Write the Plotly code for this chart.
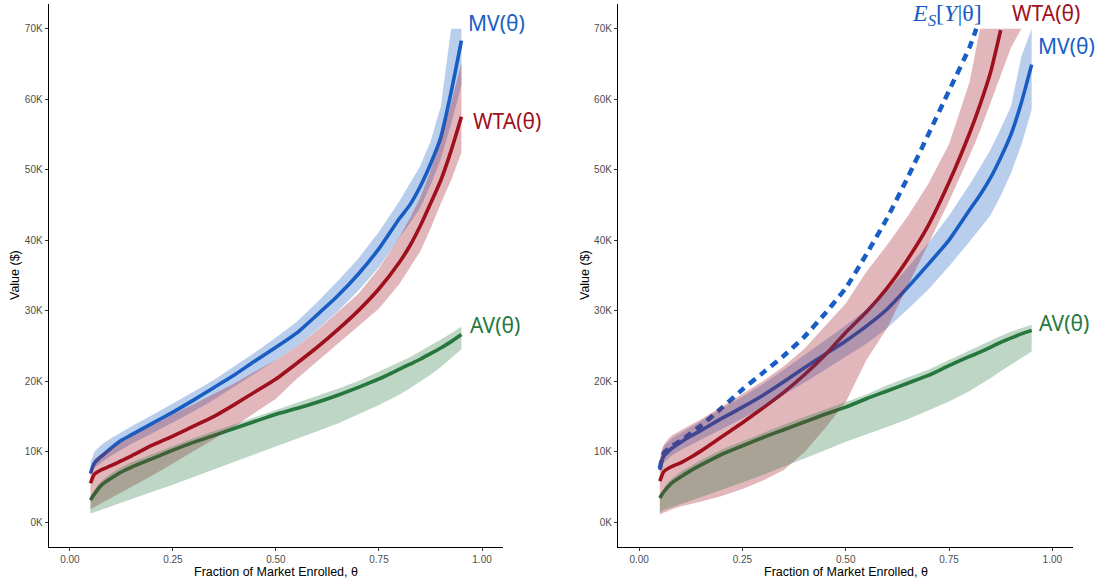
import plotly.graph_objects as go

# ---------------- data (values in $K) ----------------
THETA = [0.05, 0.055, 0.06, 0.07, 0.08, 0.1, 0.125, 0.15, 0.2, 0.25, 0.3, 0.35, 0.4,
         0.45, 0.5, 0.55, 0.6, 0.65, 0.7, 0.75, 0.8, 0.825, 0.85, 0.875, 0.9, 0.925, 0.95]

# Left panel
L_MV = [6.9, 7.8, 8.4, 9.0, 9.5, 10.5, 11.6, 12.4, 14.0, 15.6, 17.3, 19.1, 20.9, 22.9, 24.8,
        26.8, 29.4, 32.1, 35.2, 38.8, 43.1, 45.0, 47.6, 50.8, 54.6, 61.0, 68.3]
L_MV_LO = [6.6, 7.3, 7.7, 8.2, 8.6, 9.4, 10.3, 11.1, 12.6, 14.1, 15.7, 17.4, 19.2, 21.1, 23.0,
           24.9, 27.3, 29.9, 32.8, 36.2, 40.4, 42.4, 44.6, 47.8, 51.5, 56.5, 62.0]
L_MV_HI = [8.4, 9.3, 10.0, 10.6, 11.1, 11.9, 12.8, 13.6, 15.2, 16.8, 18.5, 20.2, 22.1, 24.1, 26.2,
           28.4, 31.2, 34.2, 37.4, 41.2, 45.6, 48.0, 50.5, 54.0, 59.0, 70.0, 70.0]
L_WTA = [5.5, 6.3, 6.8, 7.2, 7.5, 8.0, 8.7, 9.4, 10.9, 12.2, 13.6, 15.0, 16.7, 18.5, 20.3,
         22.5, 24.8, 27.3, 30.0, 33.1, 36.9, 39.2, 42.0, 45.2, 48.5, 52.7, 57.5]
L_WTA_LO = [1.8, 2.0, 2.2, 2.5, 2.8, 3.4, 4.2, 5.0, 6.6, 8.3, 10.0, 11.8, 13.6, 15.5, 17.5,
            20.3, 22.9, 25.4, 27.8, 30.3, 33.8, 36.0, 38.4, 41.6, 45.2, 48.5, 52.4]
L_WTA_HI = [7.4, 8.3, 8.9, 9.4, 9.8, 10.5, 11.4, 12.2, 13.8, 15.3, 16.7, 18.2, 19.7, 21.4, 23.0,
            24.9, 27.2, 29.8, 32.4, 36.0, 40.5, 43.1, 46.0, 49.8, 54.2, 59.5, 65.1]
L_AV = [3.1, 3.6, 4.0, 4.8, 5.4, 6.2, 7.1, 7.8, 9.0, 10.2, 11.3, 12.3, 13.3, 14.3, 15.3,
        16.1, 17.0, 18.0, 19.1, 20.3, 21.7, 22.4, 23.1, 23.9, 24.7, 25.6, 26.6]
L_AV_LO = [1.2, 1.3, 1.5, 1.7, 1.9, 2.3, 2.8, 3.3, 4.3, 5.3, 6.3, 7.4, 8.5, 9.6, 10.7,
           11.8, 12.9, 14.0, 15.3, 16.6, 18.1, 19.0, 19.9, 20.9, 22.0, 23.2, 24.5]
L_AV_HI = [3.5, 4.1, 4.6, 5.4, 6.0, 6.9, 7.8, 8.5, 9.7, 10.8, 11.9, 12.9, 13.9, 14.9, 15.9,
           16.8, 17.8, 18.9, 20.0, 21.3, 22.7, 23.4, 24.2, 25.0, 25.9, 26.8, 27.7]

# Right panel
R_MV = [7.4, 8.7, 9.4, 10.0, 10.5, 11.3, 12.2, 13.0, 14.7, 16.3, 18.0, 19.9, 21.9, 23.8, 25.7,
        27.8, 30.2, 33.3, 36.6, 40.0, 44.3, 46.4, 48.8, 51.7, 55.0, 59.5, 64.9]
R_MV_LO = [7.0, 7.8, 8.4, 9.0, 9.5, 10.2, 11.0, 11.7, 13.2, 14.7, 16.3, 18.0, 19.8, 21.6, 23.4,
           25.3, 27.5, 30.2, 33.0, 36.3, 39.8, 41.6, 43.5, 46.3, 49.5, 53.5, 58.5]
R_MV_HI = [8.6, 10.0, 10.8, 11.4, 11.9, 12.6, 13.5, 14.3, 16.1, 17.8, 19.6, 21.6, 23.7, 25.8, 27.9,
           30.2, 32.8, 36.1, 39.6, 43.5, 47.9, 50.3, 52.8, 55.8, 59.0, 66.0, 70.0]
R_WTA = [5.8, 6.6, 7.2, 7.6, 7.9, 8.4, 9.2, 10.1, 12.1, 14.1, 16.2, 18.4, 20.9, 23.7, 26.9,
         29.8, 33.2, 37.3, 42.1, 48.2, 55.2, 59.2, 63.7, 69.8, None, None, None]
R_WTA_LO = [1.0, 1.2, 1.3, 1.6, 1.8, 2.2, 2.6, 2.9, 3.7, 4.7, 5.9, 7.4, 9.9, 13.3, 17.0,
            23.0, 27.5, 33.5, 39.5, 45.5, 52.0, 55.5, 59.3, 63.3, 67.3, 70.0, None]
R_WTA_HI = [9.0, 10.3, 11.0, 11.8, 12.3, 13.0, 13.8, 14.6, 16.4, 18.2, 20.0, 22.1, 24.6, 27.8, 31.0,
            35.5, 39.3, 43.4, 48.0, 53.6, 62.5, 70.0, 70.0, 70.0, 70.0, 70.0, None]
R_AV = [3.4, 3.9, 4.3, 5.0, 5.6, 6.4, 7.3, 8.1, 9.6, 10.8, 12.0, 13.1, 14.2, 15.3, 16.3,
        17.5, 18.6, 19.7, 20.8, 22.2, 23.5, 24.1, 24.8, 25.5, 26.1, 26.7, 27.2]
R_AV_LO = [1.4, 1.5, 1.7, 1.9, 2.1, 2.5, 3.0, 3.5, 4.6, 5.6, 6.7, 7.8, 9.0, 10.2, 11.4,
           12.5, 13.5, 14.6, 15.8, 17.1, 18.6, 19.5, 20.4, 21.4, 22.4, 23.3, 24.2]
R_AV_HI = [3.7, 4.3, 4.8, 5.6, 6.2, 7.1, 8.0, 8.8, 10.3, 11.5, 12.7, 13.8, 14.9, 16.0, 17.0,
           18.1, 19.4, 20.5, 21.6, 23.0, 24.4, 25.0, 25.7, 26.4, 27.0, 27.5, 28.0]

ES_THETA = [0.05, 0.06, 0.08, 0.1, 0.15, 0.2, 0.25, 0.3, 0.35, 0.4, 0.45, 0.5, 0.55,
            0.6, 0.65, 0.7, 0.75, 0.8, 0.816]
ES_VALUE = [7.6, 9.8, 10.8, 11.5, 13.7, 16.2, 18.8, 21.2, 23.6, 26.3, 29.6, 33.2, 38.0,
            43.1, 48.9, 55.0, 61.2, 67.4, 70.0]

X_TICKS = [0, 0.25, 0.5, 0.75, 1.0]
X_TICK_LABELS = ["0.00", "0.25", "0.50", "0.75", "1.00"]
Y_TICKS = [0, 10, 20, 30, 40, 50, 60, 70]
Y_TICK_LABELS = ["0K", "10K", "20K", "30K", "40K", "50K", "60K", "70K"]

BLUE = "#185EC4"
RED = "#A0101E"
GREEN = "#26783E"


def rgba(hexc, a):
    h = hexc.lstrip("#")
    return f"rgba({int(h[0:2],16)},{int(h[2:4],16)},{int(h[4:6],16)},{a})"


def pts(xs, ys):
    p = [(x, y * 1000) for x, y in zip(xs, ys) if y is not None]
    return [a for a, _ in p], [b for _, b in p]


fig = go.Figure()


def add_line(xs, ys, color, xa, ya, dash="solid", width=3.6):
    x, y = pts(xs, ys)
    fig.add_trace(go.Scatter(x=x, y=y, mode="lines", xaxis=xa, yaxis=ya,
                             line=dict(color=color, width=width, dash=dash,
                                       shape="spline", smoothing=0.6),
                             showlegend=False, hoverinfo="skip"))


def add_band(xs, lo, hi, color, xa, ya):
    xl, yl = pts(xs, lo)
    xh, yh = pts(xs, hi)
    fig.add_trace(go.Scatter(x=xh + xl[::-1], y=yh + yl[::-1], mode="lines", fill="toself",
                             fillcolor=rgba(color, 0.3), line=dict(width=0),
                             xaxis=xa, yaxis=ya, showlegend=False, hoverinfo="skip"))


# lines first (ribbons are drawn on top of them, as in the reference)
add_line(THETA, L_MV, BLUE, "x", "y")
add_line(THETA, L_WTA, RED, "x", "y")
add_line(THETA, L_AV, GREEN, "x", "y")
add_band(THETA, L_MV_LO, L_MV_HI, BLUE, "x", "y")
add_band(THETA, L_WTA_LO, L_WTA_HI, RED, "x", "y")
add_band(THETA, L_AV_LO, L_AV_HI, GREEN, "x", "y")

add_line(THETA, R_MV, BLUE, "x2", "y2")
add_line(THETA, R_WTA, RED, "x2", "y2")
add_line(THETA, R_AV, GREEN, "x2", "y2")
add_line(ES_THETA, ES_VALUE, BLUE, "x2", "y2", dash="8px,6px", width=4.5)
add_band(THETA, R_MV_LO, R_MV_HI, BLUE, "x2", "y2")
add_band(THETA, R_WTA_LO, R_WTA_HI, RED, "x2", "y2")
add_band(THETA, R_AV_LO, R_AV_HI, GREEN, "x2", "y2")

TICKFONT = dict(family="Liberation Sans, Arial, sans-serif", size=10, color="#4d4d4d")
common_x = dict(range=[-0.05, 1.05], tickvals=X_TICKS, ticktext=X_TICK_LABELS,
                showline=True, linecolor="black", linewidth=1.2, ticks="outside",
                ticklen=3.5, tickcolor="#333333", tickwidth=1, showgrid=False,
                zeroline=False, tickfont=TICKFONT, automargin=False, fixedrange=True)
common_y = dict(range=[-3500, 73500], tickvals=[v * 1000 for v in Y_TICKS],
                ticktext=Y_TICK_LABELS, showline=True, linecolor="black", linewidth=1.2,
                ticks="outside", ticklen=3.5, tickcolor="#333333", tickwidth=1,
                showgrid=False, zeroline=False, tickfont=TICKFONT, automargin=False,
                domain=[0.0590, 0.9931], fixedrange=True)

fig.update_layout(
    width=1097, height=581,
    margin=dict(l=0, r=0, t=0, b=0),
    paper_bgcolor="white", plot_bgcolor="white",
    xaxis=dict(domain=[0.0449, 0.4582], anchor="y", **common_x),
    yaxis=dict(anchor="x", **common_y),
    xaxis2=dict(domain=[0.5638, 0.9781], anchor="y2", **common_x),
    yaxis2=dict(anchor="x2", **common_y),
)

TITLEFONT = dict(family="Liberation Sans, Arial, sans-serif", size=12.5, color="black")
LABELFONT = "Noto Sans, Open Sans, sans-serif"
ann = [
    dict(text="Value ($)", x=0.0137, y=0.5267, xref="paper", yref="paper",
         xanchor="center", yanchor="middle", textangle=-90, showarrow=False, font=TITLEFONT),
    dict(text="Value ($)", x=0.5333, y=0.5267, xref="paper", yref="paper",
         xanchor="center", yanchor="middle", textangle=-90, showarrow=False, font=TITLEFONT),
    dict(text="Fraction of Market Enrolled, θ", x=0.2516, y=0.016, xref="paper",
         yref="paper", xanchor="center", yanchor="middle", showarrow=False, font=TITLEFONT),
    dict(text="Fraction of Market Enrolled, θ", x=0.771, y=0.016, xref="paper",
         yref="paper", xanchor="center", yanchor="middle", showarrow=False, font=TITLEFONT),
    # curve labels, left
    dict(text="MV(θ)", x=0.962, y=70800, xref="x", yref="y", xanchor="left",
         yanchor="middle", showarrow=False, font=dict(family=LABELFONT, size=21, color=BLUE)),
    dict(text="WTA(θ)", x=0.974, y=56900, xref="x", yref="y", xanchor="left",
         yanchor="middle", showarrow=False, font=dict(family=LABELFONT, size=21, color=RED)),
    dict(text="AV(θ)", x=0.966, y=28000, xref="x", yref="y", xanchor="left",
         yanchor="middle", showarrow=False, font=dict(family=LABELFONT, size=21, color=GREEN)),
    # curve labels, right
    dict(text="<i>E</i><sub><i>S</i></sub>[<i>Y</i>|θ]", x=0.655, y=72000, xref="x2",
         yref="y2", xanchor="left", yanchor="middle", showarrow=False,
         font=dict(family="Liberation Serif, Times New Roman, serif", size=24, color=BLUE)),
    dict(text="WTA(θ)", x=0.898, y=72200, xref="x2", yref="y2", xanchor="left",
         yanchor="middle", showarrow=False, font=dict(family=LABELFONT, size=21, color=RED)),
    dict(text="MV(θ)", x=0.961, y=67500, xref="x2", yref="y2", xanchor="left",
         yanchor="middle", showarrow=False, font=dict(family=LABELFONT, size=21, color=BLUE)),
    dict(text="AV(θ)", x=0.963, y=28300, xref="x2", yref="y2", xanchor="left",
         yanchor="middle", showarrow=False, font=dict(family=LABELFONT, size=21, color=GREEN)),
]
fig.update_layout(annotations=ann)

fig.write_html("out.html", config={"displayModeBar": False},
               post_script="document.body.style.margin='0';document.body.style.overflow='hidden';")
